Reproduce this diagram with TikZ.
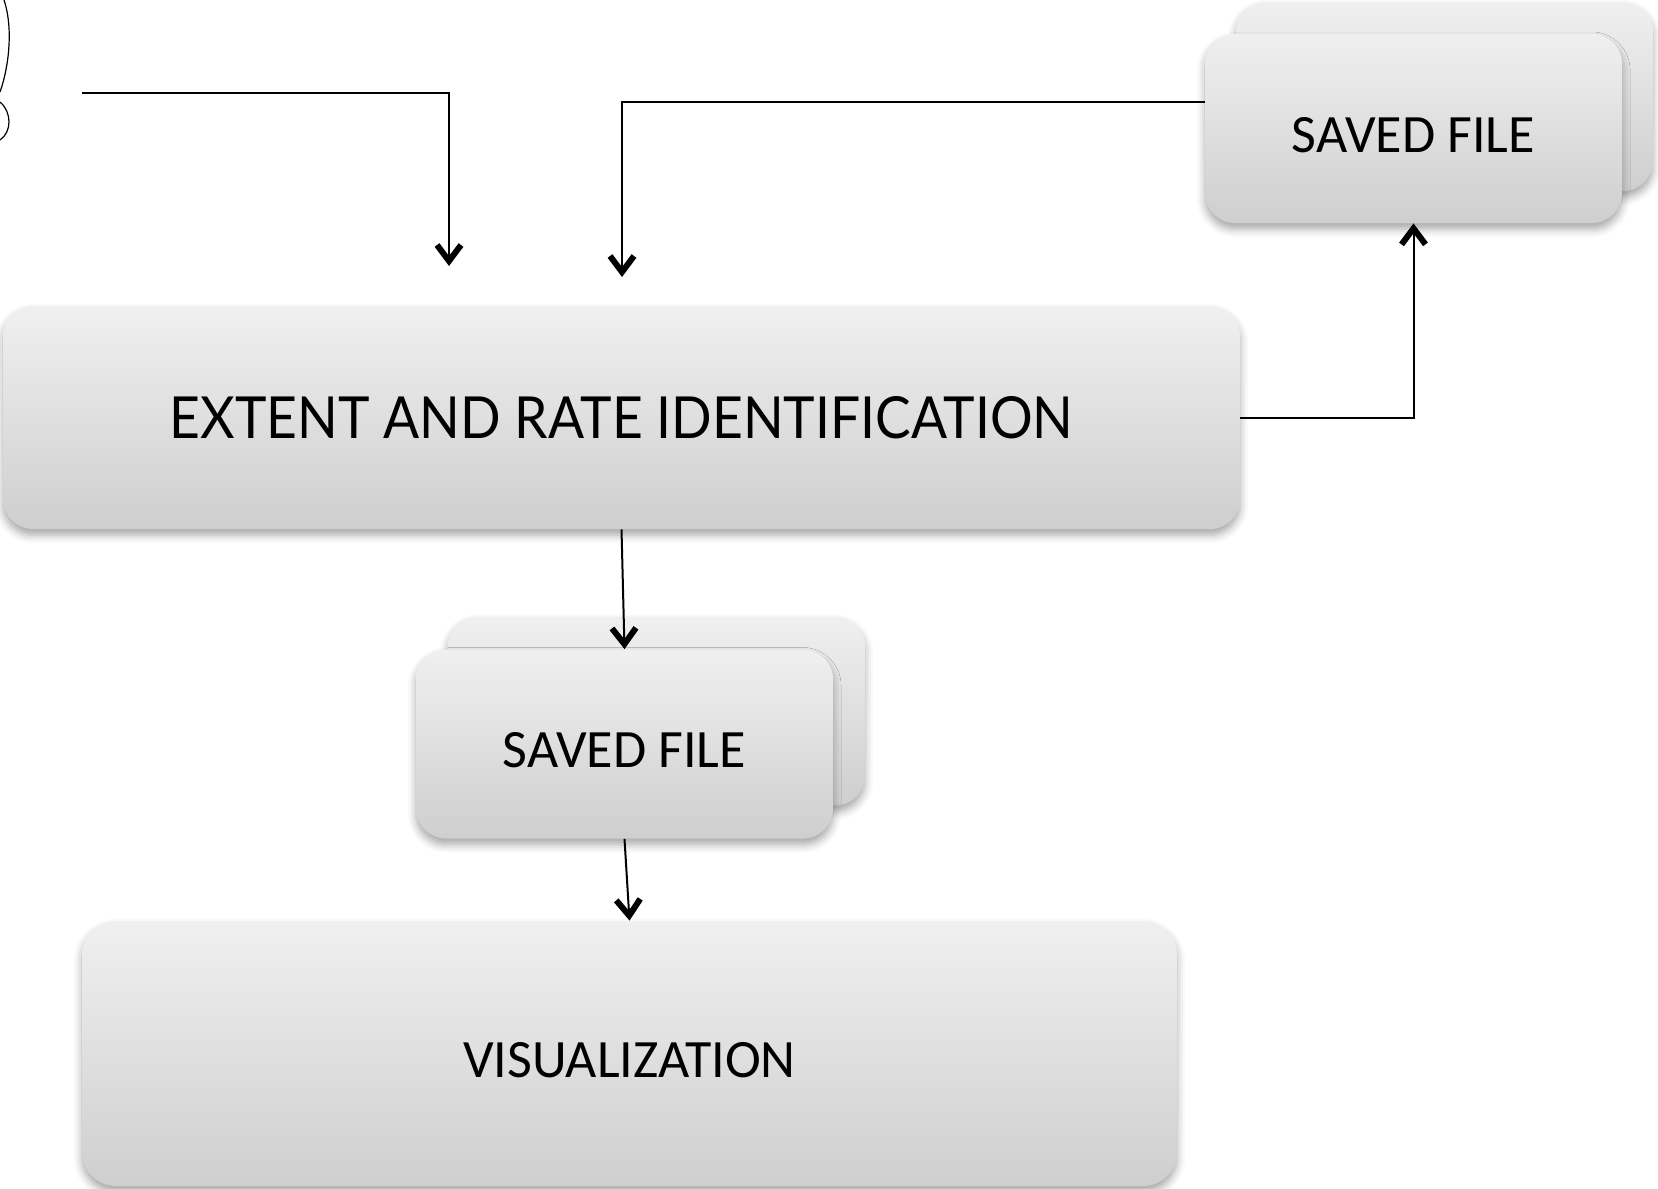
\documentclass[tikz,border=0pt]{standalone}
\usepackage{fontspec}
\setmainfont{Carlito}
\newfontfamily\extfont{Lato}
\usetikzlibrary{arrows.meta,shadows.blur}

\begin{document}
\begin{tikzpicture}[x=0.5pt,y=-0.5pt,
    box/.style={rounded corners=15pt, top color=black!6, bottom color=black!19, draw=none, inner sep=0pt,
        blur shadow={shadow xshift=0pt, shadow yshift=-3pt, shadow blur radius=4pt, shadow opacity=35}},
    label/.style={font=\fontsize{27}{32}\selectfont, text height=23.5pt, text depth=0pt},
    filebox/.style={box, label, minimum width=208.5pt, minimum height=94.5pt},
    link/.style={line width=1pt, -{Straight Barb[length=8pt,width=12pt,line width=3pt]}}]

    \useasboundingbox (0,0) rectangle (1658,1188);

    \draw[line width=0.6pt] (4,0) .. controls (14,30) and (8,70) .. (0,92);
    \draw[line width=0.6pt] (0,102) .. controls (12,112) and (12,132) .. (0,140);

    \node[box, minimum width=618.5pt, minimum height=111.5pt] (ext) at (621.5,417.5)
        {\extfont\fontsize{29}{34}\selectfont\scalebox{0.92}[1]{EXTENT AND RATE IDENTIFICATION}};

    \node[filebox] (sf1b) at (1444.5,96.5) {};
    \node[filebox] (sf1) at (1413.5,128.5) {SAVED FILE};

    \node[filebox] (sf2b) at (656.5,711) {};
    \node[filebox] (sf2) at (624.5,744) {SAVED FILE};

    \node[box, label, rounded corners=17pt, minimum width=547.5pt, minimum height=132.5pt]
        (vis) at (629.5,1053.5) {VISUALIZATION};

    \coordinate (in) at (82,93);
    \coordinate (inend) at (449,266);
    \coordinate (fb) at ([yshift=13pt]sf1.west);
    \coordinate (fbend) at (622,277);

    \draw[link] (in) -| (inend);
    \draw[link] (fb) -| (fbend);
    \draw[link] (ext.east) -| (sf1.south);
    \draw[link] (ext.south) -- (sf2.north);
    \draw[link] (sf2.south) -- (vis.north);
\end{tikzpicture}
\end{document}
